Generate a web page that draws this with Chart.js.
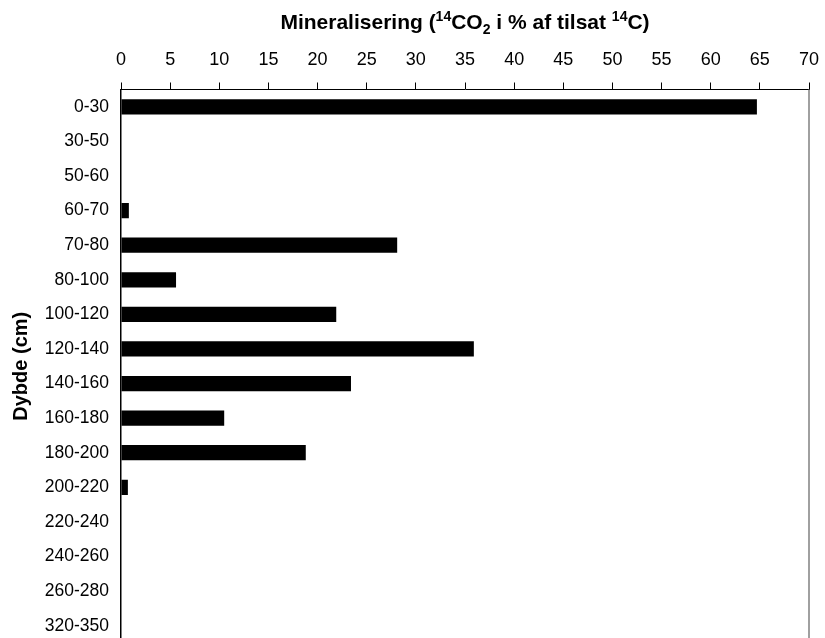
<!DOCTYPE html>
<html>
<head>
<meta charset="utf-8">
<script src="https://cdn.jsdelivr.net/npm/chart.js@4.4.1/dist/chart.umd.min.js"></script>
<style>
  html, body { margin: 0; padding: 0; background: #fff; overflow: hidden; }
  canvas { display: block; }
</style>
</head>
<body>
<canvas id="c" width="825" height="651" style="width:825px;height:651px"></canvas>
<script>
const categories = ["0-30","30-50","50-60","60-70","70-80","80-100","100-120","120-140","140-160","160-180","180-200","200-220","220-240","240-260","260-280","320-350"];
const mineralisering = [64.7, 0, 0, 0.8, 28.1, 5.6, 21.9, 35.9, 23.4, 10.5, 18.8, 0.7, 0, 0, 0, 0];
const xTickMin = 0, xTickMax = 70, xTickStep = 5;
const titleParts = [
  {t: "Mineralisering (", k: "n"},
  {t: "14", k: "sup"},
  {t: "CO", k: "n"},
  {t: "2", k: "sub"},
  {t: " i % af tilsat ", k: "n"},
  {t: "14", k: "sup"},
  {t: "C)", k: "n"}
];
const yTitle = "Dybde (cm)";

const FONT = "'Liberation Sans', Arial, sans-serif";

const titlePlugin = {
  id: 'richTitle',
  afterDraw(chart) {
    const ctx = chart.ctx;
    const area = chart.chartArea;
    ctx.save();
    const fonts = {
      n: "bold 21px " + FONT,
      sup: "bold 14px " + FONT,
      sub: "bold 14px " + FONT
    };
    const offs = { n: 0, sup: -7.5, sub: 5 };
    let total = 0;
    titleParts.forEach(p => { ctx.font = fonts[p.k]; total += ctx.measureText(p.t).width; });
    let x = (area.left + area.right) / 2 - total / 2;
    const base = 28.5;
    ctx.fillStyle = "#000";
    ctx.textBaseline = "alphabetic";
    ctx.textAlign = "left";
    titleParts.forEach(p => {
      ctx.font = fonts[p.k];
      ctx.fillText(p.t, x, base + offs[p.k]);
      x += ctx.measureText(p.t).width;
    });
    // right frame line
    ctx.strokeStyle = "#808080";
    ctx.lineWidth = 1.5;
    ctx.beginPath();
    ctx.moveTo(area.right, area.top);
    ctx.lineTo(area.right, area.bottom);
    ctx.stroke();
    ctx.restore();
  }
};

function zeroPad(scale) {
  scale.paddingTop = 0; scale.paddingBottom = 0;
  scale.paddingLeft = 0; scale.paddingRight = 0;
}

new Chart(document.getElementById('c'), {
  type: 'bar',
  data: {
    labels: categories,
    datasets: [{
      data: mineralisering,
      backgroundColor: '#000',
      borderWidth: 0,
      categoryPercentage: 1.0,
      barPercentage: 0.44
    }]
  },
  options: {
    indexAxis: 'y',
    responsive: false,
    animation: false,
    devicePixelRatio: 1,
    layout: { padding: { top: 0, right: 16, bottom: 8, left: 0 } },
    plugins: { legend: { display: false }, tooltip: { enabled: false }, title: { display: false } },
    scales: {
      x: {
        position: 'top',
        min: xTickMin, max: xTickMax,
        ticks: { stepSize: xTickStep, color: '#000', font: { family: FONT, size: 18 }, padding: 12, maxRotation: 0 },
        grid: { drawOnChartArea: false, drawTicks: true, tickLength: 7, color: '#000', lineWidth: 1 },
        border: { display: true, color: '#000', width: 1 },
        afterFit(scale) { scale.height = 89.5; zeroPad(scale); }
      },
      y: {
        ticks: { color: '#000', font: { family: FONT, size: 17.5 }, padding: 12 },
        grid: { display: false, drawTicks: false },
        border: { display: true, color: '#000', width: 1.5 },
        title: { display: true, text: yTitle, color: '#000', font: { family: FONT, size: 20, weight: 'bold' }, padding: { top: 9, bottom: 0 } },
        afterFit(scale) { scale.width = 121; zeroPad(scale); }
      }
    }
  },
  plugins: [titlePlugin]
});
</script>
</body>
</html>
